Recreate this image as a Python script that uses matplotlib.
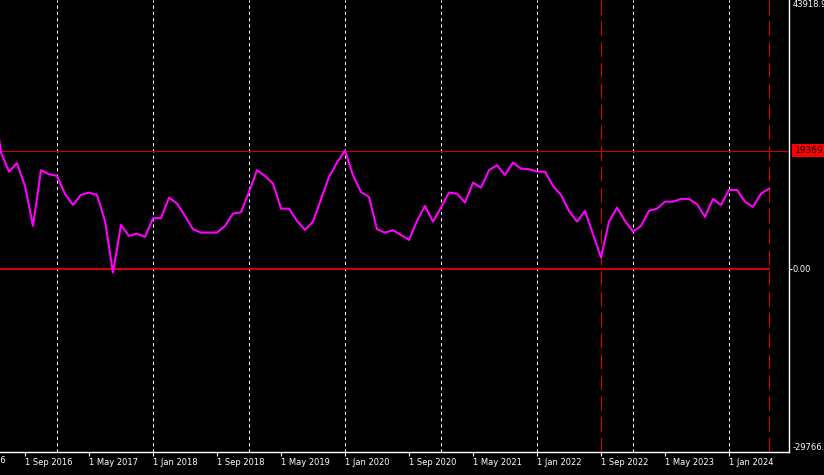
import numpy as np
import matplotlib
matplotlib.use('Agg')
import matplotlib.pyplot as plt

# monthly values, May 2016 .. Jun 2024
values = [28300, 19040, 15940, 17310, 13610, 7090, 16170, 15520,
          15240, 12310, 10510, 12140, 12520, 12140, 7910, -520, 7250, 5460, 5840, 5300,
          8350, 8350, 11700, 10730, 8720, 6550, 6000, 6000, 6000, 7090, 9100, 9320,
          12630, 16170, 15240, 13990, 9910, 9910, 7910, 6440, 7790, 11440, 15080, 17410,
          19369, 15350, 12630, 11820, 6550, 6000, 6390, 5620, 4810, 7910, 10350, 7790,
          10070, 12520, 12360, 10890, 14150, 13330, 16170, 16980, 15400, 17410, 16430, 16330,
          15940, 15940, 13610, 12140, 9540, 7790, 9540, 5740, 1920, 7790, 10070, 7910,
          6160, 7090, 9540, 9910, 11050, 11050, 11490, 11490, 10630, 8560, 11490, 10510,
          12960, 12960, 11050, 10190, 12360, 13170]
first_month = 4  # months counted from Jan 2016

tick_months = [0, 8, 16, 24, 32, 40, 48, 56, 64, 72, 80, 88, 96]
tick_labels = ['1 Jan 2016', '1 Sep 2016', '1 May 2017', '1 Jan 2018', '1 Sep 2018',
               '1 May 2019', '1 Jan 2020', '1 Sep 2020', '1 May 2021', '1 Jan 2022',
               '1 Sep 2022', '1 May 2023', '1 Jan 2024']
grid_months = [12, 24, 36, 48, 60, 72, 84, 96]
marker_months = [80, 101]
level = 19369
y_min, y_max = -29766.5, 43918.9

W, H = 824, 475
fig = plt.figure(figsize=(W / 100, H / 100), dpi=100, facecolor='black')
ax = fig.add_axes([0, 1 - 452 / H, 789 / W, 452 / H])
ax.set_facecolor('black')

x = np.arange(len(values)) + first_month
x_left, x_right = 4.875, 103.5

for m in grid_months:
    ax.axvline(m, color='white', lw=0.75, ls=(0, (3, 3)), zorder=1)
for m in marker_months:
    ax.axvline(m, color='#e00000', lw=0.75, ls=(0, (14, 6)), zorder=1)

ax.axhline(level, color='#d00000', lw=0.75, zorder=1)
ax.plot([x_left, marker_months[-1]], [0, 0], color='#ff0000', lw=1.2, zorder=2)

ax.plot(x, values, color='#ff00ff', lw=1.5, zorder=3)

for s in ['left', 'top']:
    ax.spines[s].set_visible(False)
for s in ['right', 'bottom']:
    ax.spines[s].set_color('white')
    ax.spines[s].set_linewidth(1)

vis = [i for i, m in enumerate(tick_months) if m >= x_left]
ax.set_xticks([tick_months[i] for i in vis])
ax.set_xticklabels([tick_labels[i] for i in vis], ha='left')
ax.tick_params(axis='x', colors='white', length=3, width=0.8, pad=1.5,
               labelsize=6)
# first label sits mostly off the left edge
for i, m in enumerate(tick_months):
    if m < x_left:
        ax.text(m, -0.008, tick_labels[i], transform=ax.get_xaxis_transform(),
                color='white', fontsize=6, ha='left', va='top', clip_on=False)

ax.yaxis.tick_right()
ax.set_yticks([0])
ax.set_yticklabels([])
ax.tick_params(axis='y', colors='white', length=2, width=0.8)

ax.set_xlim(x_left, x_right)
ax.set_ylim(y_min, y_max)

tr = ax.get_yaxis_transform()
ax.text(1.005, y_max, '43918.9', transform=tr, color='white', fontsize=6,
        va='top', ha='left')
ax.text(1.005, 0, '0.00', transform=tr, color='white', fontsize=6,
        va='center', ha='left')
ax.text(1.005, y_min, '-29766.5', transform=tr, color='white', fontsize=6,
        va='bottom', ha='left')
ax.text(1.007, level, '19369.', transform=tr, color='black', fontsize=6.5,
        va='center', ha='left',
        bbox=dict(facecolor='#ff0000', edgecolor='none', pad=1.5))

fig.savefig('out.png', dpi=100, facecolor='black')
